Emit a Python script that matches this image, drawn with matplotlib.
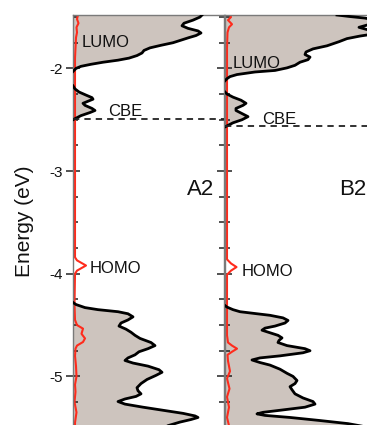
import numpy as np
import matplotlib
matplotlib.use("Agg")
import matplotlib.pyplot as plt
from matplotlib.ticker import MultipleLocator

plt.rcParams['font.family'] = ['Liberation Sans', 'DejaVu Sans']
plt.rcParams['axes.unicode_minus'] = False

# ---- data (energy in eV, DOS in arbitrary units) ----
# panel A2
a2_lumo_e = [-1.48, -1.50, -1.53, -1.56, -1.585, -1.61, -1.635, -1.655, -1.68, -1.70,
             -1.725, -1.75, -1.775, -1.80, -1.825, -1.85, -1.875, -1.90, -1.92, -1.94,
             -1.96, -1.98, -2.00, -2.03]
a2_lumo_d = [129, 127, 120, 111, 109, 115, 125, 128, 123, 116,
             108, 100, 88, 77, 71, 69, 64, 56, 45, 30,
             18, 8, 3, 0]
a2_cbe_e = [-2.17, -2.20, -2.23, -2.26, -2.285, -2.30, -2.32, -2.34, -2.36, -2.39,
            -2.41, -2.43, -2.46, -2.49, -2.50]
a2_cbe_d = [0, 2, 6, 13, 19, 20, 15, 10, 12, 19, 22, 17, 8, 2, 0]
a2_vb_e = [-4.28, -4.30, -4.33, -4.35, -4.37, -4.39, -4.42, -4.45, -4.48, -4.51,
           -4.54, -4.57, -4.60, -4.63, -4.67, -4.70, -4.73, -4.76, -4.79, -4.82,
           -4.845, -4.87, -4.90, -4.935, -4.96, -4.99, -5.03, -5.07, -5.11, -5.14,
           -5.17, -5.195, -5.22, -5.245, -5.27, -5.30, -5.33, -5.36, -5.385, -5.40,
           -5.42, -5.445, -5.48, -5.52, -5.60]
a2_vb_d = [0, 3, 12, 25, 45, 55, 60, 55, 48, 46,
           53, 58, 62, 67, 78, 82, 75, 66, 62, 55,
           52, 60, 75, 86, 89, 83, 74, 68, 64, 65,
           68, 63, 52, 45, 52, 70, 90, 110, 122, 125,
           118, 107, 95, 88, 82]
a2_red_e = [-1.48, -1.52, -1.56, -1.60, -1.65, -1.70, -1.80, -1.90, -2.20, -2.60,
            -3.00, -3.50, -3.84, -3.87, -3.92, -3.97, -4.00, -4.30, -4.45, -4.50,
            -4.535, -4.585, -4.63, -4.665, -4.70, -4.73, -4.80, -4.90, -5.00, -5.08,
            -5.15, -5.25, -5.35, -5.45, -5.60]
a2_red_d = [5, 4, 5.5, 3.5, 4, 3, 2.5, 2, 2, 2,
            2, 2, 2, 4, 13, 4, 2, 1.5, 2, 4,
            10, 8.5, 12, 10, 4, 2.5, 2, 3, 3.5, 2,
            2.5, 1.5, 3.5, 2, 2]
a2_cbe = -2.49

# panel B2
b2_lumo_e = [-1.48, -1.495, -1.51, -1.53, -1.57, -1.60, -1.63, -1.66, -1.685, -1.71,
             -1.74, -1.78, -1.81, -1.84, -1.865, -1.89, -1.915, -1.94, -1.97, -1.995,
             -2.02, -2.035, -2.06, -2.08, -2.10, -2.12]
b2_lumo_d = [112, 125, 140, 150, 145, 134, 145, 152, 135, 122,
             114, 102, 88, 81, 80, 85, 83, 75, 70, 62,
             50, 30, 12, 5, 2, 0]
b2_cbe_e = [-2.23, -2.25, -2.28, -2.31, -2.34, -2.36, -2.39, -2.41, -2.44, -2.47,
            -2.50, -2.53, -2.555, -2.57]
b2_cbe_d = [0, 2, 8, 16, 21, 18, 11, 11, 17, 23, 17, 8, 3, 0]
b2_vb_e = [-4.31, -4.325, -4.35, -4.37, -4.39, -4.405, -4.43, -4.455, -4.48, -4.51,
           -4.53, -4.55, -4.575, -4.60, -4.625, -4.65, -4.67, -4.70, -4.73, -4.75,
           -4.77, -4.80, -4.82, -4.84, -4.865, -4.89, -4.93, -4.97, -5.00, -5.04,
           -5.07, -5.10, -5.13, -5.17, -5.21, -5.245, -5.27, -5.30, -5.33, -5.35,
           -5.365, -5.38, -5.40, -5.43, -5.46, -5.49, -5.53, -5.60]
b2_vb_d = [0, 2, 8, 15, 32, 45, 58, 63, 60, 50,
           40, 37, 45, 53, 57, 54, 53, 62, 80, 85,
           78, 55, 35, 27, 35, 45, 55, 62, 68, 72,
           70, 65, 67, 70, 78, 88, 90, 80, 55, 38,
           32, 40, 65, 95, 123, 140, 150, 160]
b2_red_e = [-1.48, -1.50, -1.53, -1.57, -1.60, -1.65, -1.80, -2.50, -3.20, -3.86,
            -3.90, -3.935, -3.97, -4.01, -4.30, -4.60, -4.67, -4.70, -4.73, -4.76,
            -4.79, -4.85, -4.95, -5.02, -5.12, -5.20, -5.30, -5.40, -5.48, -5.60]
b2_red_d = [5, 6, 3, 7, 4, 2.5, 2, 2, 2, 2,
            6, 11.5, 6, 2, 2, 2, 3, 7, 12, 7,
            2.5, 3, 5, 2, 4.5, 2, 4, 2, 4, 3]
b2_cbe = -2.565

panels = [
    ("A2", [(a2_lumo_e, a2_lumo_d), (a2_cbe_e, a2_cbe_d), (a2_vb_e, a2_vb_d)],
     (a2_red_e, a2_red_d), a2_cbe,
     {"LUMO": (9, -1.75), "CBE": (35, -2.42), "HOMO": (17, -3.95)}),
    ("B2", [(b2_lumo_e, b2_lumo_d), (b2_cbe_e, b2_cbe_d), (b2_vb_e, b2_vb_d)],
     (b2_red_e, b2_red_d), b2_cbe,
     {"LUMO": (8, -1.955), "CBE": (37, -2.497), "HOMO": (17, -3.975)}),
]

fill_col = '#cdc4be'
red_col = '#ff2b1c'
text_col = '#111111'
spine_col = '#7a7a7a'

fig = plt.figure(figsize=(3.67, 4.25), dpi=100)
lefts = [73 / 367, 225 / 367]
width = 151 / 367
bottom = -0.03057
height = 0.99527

for i, (name, segs, red, cbe, labels) in enumerate(panels):
    ax = fig.add_axes([lefts[i], bottom, width, height])
    for e, d in segs:
        ax.fill_betweenx(e, 0, d, color=fill_col, lw=0, zorder=1)
    ax.plot(red[1], red[0], color=red_col, lw=1.5, zorder=2)
    for e, d in segs:
        ax.plot(d, e, color='black', lw=2.0, zorder=3, solid_joinstyle='round')
    ax.axhline(cbe, color='#222222', lw=1.3, ls=(0, (3.5, 2.8)), zorder=4)

    for txt, (x, y) in labels.items():
        ax.text(x, y, txt, fontsize=12, color=text_col, ha='left', va='center', zorder=5)
    ax.text(114, -3.18, name, fontsize=16, color=text_col, ha='left', va='center')

    ax.set_xlim(0, 151)
    ax.set_ylim(-5.6, -1.48)
    ax.set_xticks([])
    ax.yaxis.set_major_locator(MultipleLocator(1))
    ax.yaxis.set_minor_locator(MultipleLocator(0.25))
    for s in ax.spines.values():
        s.set_color(spine_col)
        s.set_linewidth(1.0)

    if i == 0:
        ax.tick_params(axis='y', which='major', direction='inout', length=9.4, width=1.1,
                       color='#222222', left=True, right=True, labelsize=11,
                       labelcolor=text_col, pad=2.3)
        ax.tick_params(axis='y', which='minor', direction='in', length=3.6, width=1.1,
                       color='#222222', left=True, right=True)
        ax.set_ylabel('Energy (eV)', fontsize=15, color=text_col)
        ax.yaxis.set_label_coords(-0.258, 0.512)
    else:
        ax.tick_params(axis='y', which='both', direction='in', width=1.1,
                       color='#222222', left=True, right=False, labelleft=False)
        ax.tick_params(axis='y', which='major', length=5)
        ax.tick_params(axis='y', which='minor', length=3.6)

plt.savefig('out.png', dpi=100)
plt.close()
